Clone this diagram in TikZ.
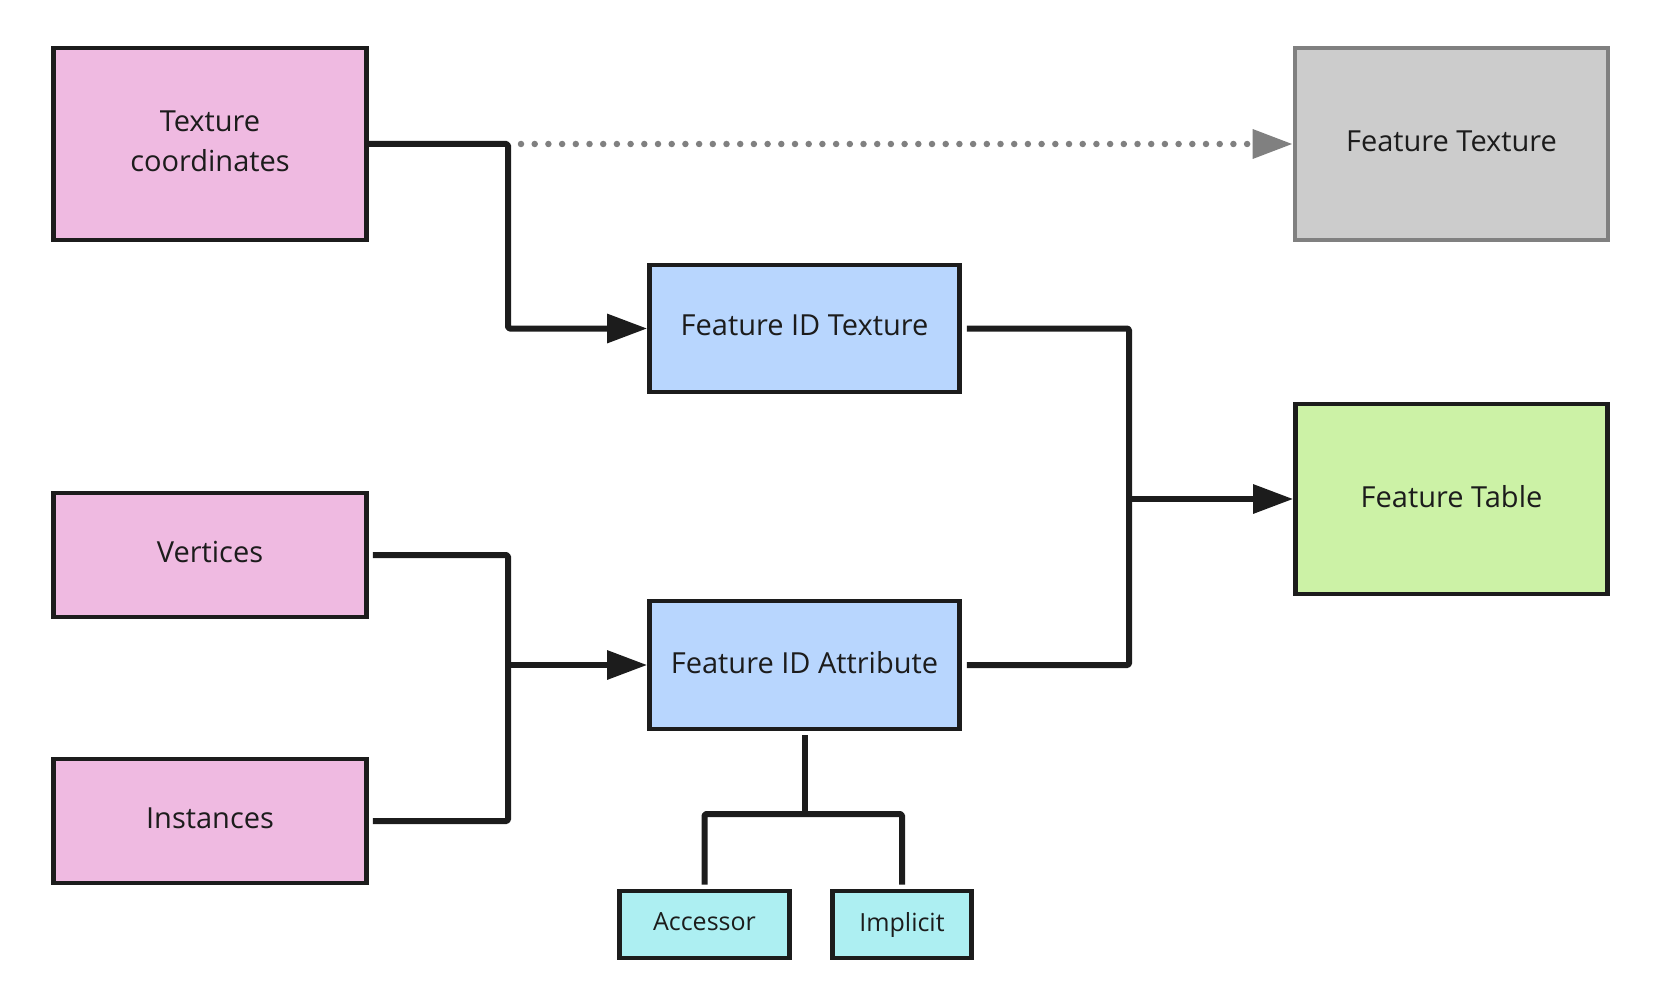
\documentclass[tikz,border=0pt]{standalone}
\usepackage{fontspec}
\setmainfont{Open Sans}
\usetikzlibrary{arrows.meta}
\definecolor{pinkc}{HTML}{EFBAE1}
\definecolor{bluec}{HTML}{B8D6FE}
\definecolor{greenc}{HTML}{CCF2A6}
\definecolor{cyanc}{HTML}{ADEFF2}
\definecolor{grayc}{HTML}{CCCCCC}
\definecolor{grayline}{HTML}{808080}
\definecolor{ink}{HTML}{1C1C1C}
\begin{document}
\begin{tikzpicture}[x=1pt,y=-1pt,
  box/.style={draw=ink, line width=4.6pt, inner sep=0pt, align=center, text=ink, text depth=6pt,
    font=\fontsize{29pt}{40pt}\selectfont},
  small/.style={font=\fontsize{25pt}{32pt}\selectfont},
  conn/.style={draw=ink, line width=6pt, line join=round, rounded corners=1.5pt},
  arr/.style={-{Triangle[length=40pt,width=28pt]}},
  dotline/.style={draw=grayline, line width=6.5pt, line cap=round, dash pattern=on 0pt off 13.7pt,
    -{Triangle[length=40pt,width=28pt,fill=grayline,color=grayline]}}
]
\path[use as bounding box] (0,0) rectangle (1662,1006);

\node[box, fill=pinkc, minimum width=313pt, minimum height=192pt] (tc) at (210,144) {Texture\\coordinates};
\node[box, fill=grayc, draw=grayline, minimum width=313pt, minimum height=192pt] (ft) at (1451.5,144) {Feature Texture};
\node[box, fill=bluec, minimum width=310pt, minimum height=127pt] (fidt) at (804.5,328.5) {Feature ID Texture};
\node[box, fill=greenc, minimum width=312pt, minimum height=190pt] (ftab) at (1451.5,499) {Feature Table};
\node[box, fill=pinkc, minimum width=313pt, minimum height=124pt] (vert) at (210,555) {Vertices};
\node[box, fill=bluec, minimum width=310pt, minimum height=128pt] (fida) at (804.5,665) {Feature ID Attribute};
\node[box, fill=pinkc, minimum width=313pt, minimum height=124pt] (inst) at (210,821) {Instances};
\node[box, small, fill=cyanc, minimum width=170pt, minimum height=67pt] (acc) at (704.5,924.5) {Accessor};
\node[box, small, fill=cyanc, minimum width=139pt, minimum height=67pt] (impl) at (902,924.5) {Implicit};

\coordinate (j1) at (508,144);
\coordinate (j1d) at (521,144);
\coordinate (j2) at (1129,499);
\coordinate (j3) at (508,665);
\coordinate (j4) at (804.5,814);

\draw[conn, arr] (tc.east) -- (j1) |- (fidt.west);
\draw[dotline] (j1d) -- (ft.west);

\draw[conn] ([xshift=5pt]fidt.east) -| (j2) |- ([xshift=5pt]fida.east);
\draw[conn, arr] (j2) -- (ftab.west);

\draw[conn] ([xshift=4pt]vert.east) -| (j3) |- ([xshift=4pt]inst.east);
\draw[conn, arr] (j3) -- (fida.west);

\draw[conn] ([yshift=-4pt]fida.south) -- (j4);
\draw[conn] ([yshift=4pt]acc.north) |- (j4) -| ([yshift=4pt]impl.north);
\end{tikzpicture}
\end{document}
